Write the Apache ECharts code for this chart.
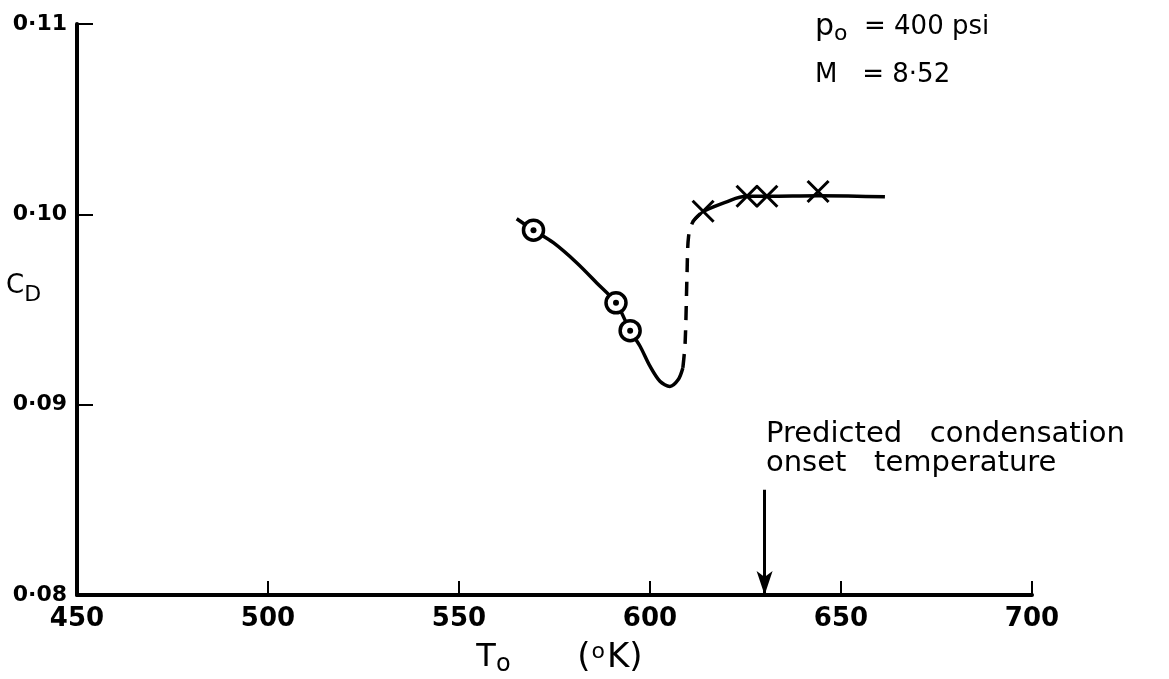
<!DOCTYPE html>
<html>
<head>
<meta charset="utf-8">
<script src="https://cdn.jsdelivr.net/npm/echarts@6/dist/echarts.min.js"></script>
<style>html,body{margin:0;padding:0;background:#fff;}#c{width:1169px;height:679px;}</style>
</head>
<body>
<div id="c"></div>
<script>
// Data
var xTicks = [450, 500, 550, 600, 650, 700];
var yTicks = [0.08, 0.09, 0.10, 0.11];
var solidLow = [[565.1,0.09977],[569.5,0.09917],[574.7,0.09851],[580.8,0.09746],[586.0,0.09641],[591.1,0.09535],[594.8,0.09389],[597.4,0.09307],[600.0,0.09202],[602.6,0.09123],[605.2,0.09096],[607.4,0.09132],[608.6,0.09193]];
var dashedRise = [[608.6,0.09193],[609.2,0.09326],[609.7,0.0969],[610.1,0.09884],[611.3,0.09963],[613.9,0.10016]];
var solidHigh = [[613.9,0.10016],[619.5,0.10062],[625.4,0.10095],[630.6,0.10095],[644,0.10098],[661.5,0.10092]];
var circles = [[569.5,0.09917],[591.1,0.09535],[594.8,0.09389]];
var crosses = [[613.9,0.10016],[625.4,0.10095],[630.6,0.10095],[644,0.1012]];
var onsetT = 630;
var onsetArrow = [0.08553, 0.08];

var FONT = 'DejaVu Sans';
var chart = echarts.init(document.getElementById('c'), null, {renderer:'canvas'});
var fmtY = function(v){ return v.toFixed(2).replace('.', '\u00b7'); };

chart.setOption({
  animation:false,
  backgroundColor:'#fff',
  grid:{left:77, right:137, top:24, bottom:84, containLabel:false, outerBoundsMode:'none'},
  xAxis:{
    type:'value', min:xTicks[0], max:xTicks[xTicks.length-1], interval:50,
    axisLine:{lineStyle:{color:'#000', width:4}},
    axisTick:{inside:true, length:14, lineStyle:{color:'#000', width:2}},
    axisLabel:{color:'#000', fontFamily:FONT, fontSize:26, fontWeight:'bold', margin:11},
    splitLine:{show:false},
    name:'{t|T}{s|o}       {k|(}{d|o}{k|K)}', nameLocation:'middle', nameGap:44,
    nameTextStyle:{color:'#000', fontFamily:FONT, fontSize:30, padding:[0,0,0,10],
      rich:{t:{fontSize:32, fontFamily:FONT, color:'#000'}, s:{fontSize:24, fontFamily:FONT, color:'#000', padding:[14,0,0,0]}, d:{fontSize:22, fontFamily:FONT, color:'#000', padding:[0,2,12,1]}, k:{fontSize:34, fontFamily:FONT, color:'#000'}}}
  },
  yAxis:{
    type:'value', min:yTicks[0], max:yTicks[yTicks.length-1], interval:0.01,
    axisLine:{lineStyle:{color:'#000', width:4}},
    axisTick:{inside:true, length:16, lineStyle:{color:'#000', width:2}},
    axisLabel:{color:'#000', fontFamily:FONT, fontSize:22, fontWeight:'bold', margin:10, formatter:fmtY},
    splitLine:{show:false}
  },
  graphic:[
    {type:'text', left:6, top:273, style:{text:'{c|C}{d|D}', fill:'#000', rich:{c:{fontSize:26, fontFamily:FONT, fill:'#000'}, d:{fontSize:22, fontFamily:FONT, fill:'#000', padding:[18,0,0,0]}}}},
    {type:'text', left:815, top:12, style:{text:'{p|p}{o|o}  = 400 psi', fontSize:26, fontFamily:FONT, fill:'#000', rich:{p:{fontSize:30, fontFamily:FONT, fill:'#000'}, o:{fontSize:22, fontFamily:FONT, fill:'#000', padding:[14,0,0,0]}}}},
    {type:'text', left:815, top:62, style:{text:'M   = 8\u00b752', fontSize:26, fontFamily:FONT, fill:'#000'}},
    {type:'text', left:766, top:420, style:{text:'Predicted   condensation', fontSize:29, fontFamily:FONT, fill:'#000'}},
    {type:'text', left:766, top:449, style:{text:'onset   temperature', fontSize:29, fontFamily:FONT, fill:'#000'}}
  ],
  series:[
    {type:'line', data:solidLow, smooth:0.3, showSymbol:false, lineStyle:{color:'#000', width:3.5}, z:2},
    {type:'line', data:dashedRise, smooth:0.3, showSymbol:false, lineStyle:{color:'#000', width:3.5, type:[14,10]}, z:2},
    {type:'line', data:solidHigh, smooth:0.4, showSymbol:false, lineStyle:{color:'#000', width:3.5}, z:2,
      markLine:{silent:true, symbol:['none','arrow'], symbolSize:[12,24], label:{show:false},
        lineStyle:{color:'#000', width:3, type:'solid'},
        data:[[{coord:[onsetT, onsetArrow[0]]},{coord:[onsetT, onsetArrow[1]]}]]}},
    {type:'scatter', data:circles, symbol:'circle', symbolSize:20, itemStyle:{color:'#fff', borderColor:'#000', borderWidth:3.5, opacity:1}, z:5},
    {type:'scatter', data:circles, symbol:'circle', symbolSize:6, itemStyle:{color:'#000', opacity:1}, z:6},
    {type:'scatter', data:crosses, symbol:'path://M0,0L10,10M10,0L0,10', symbolSize:21, itemStyle:{color:'none', borderColor:'#000', borderWidth:3, opacity:1}, z:5}
  ]
});
</script>
</body>
</html>
